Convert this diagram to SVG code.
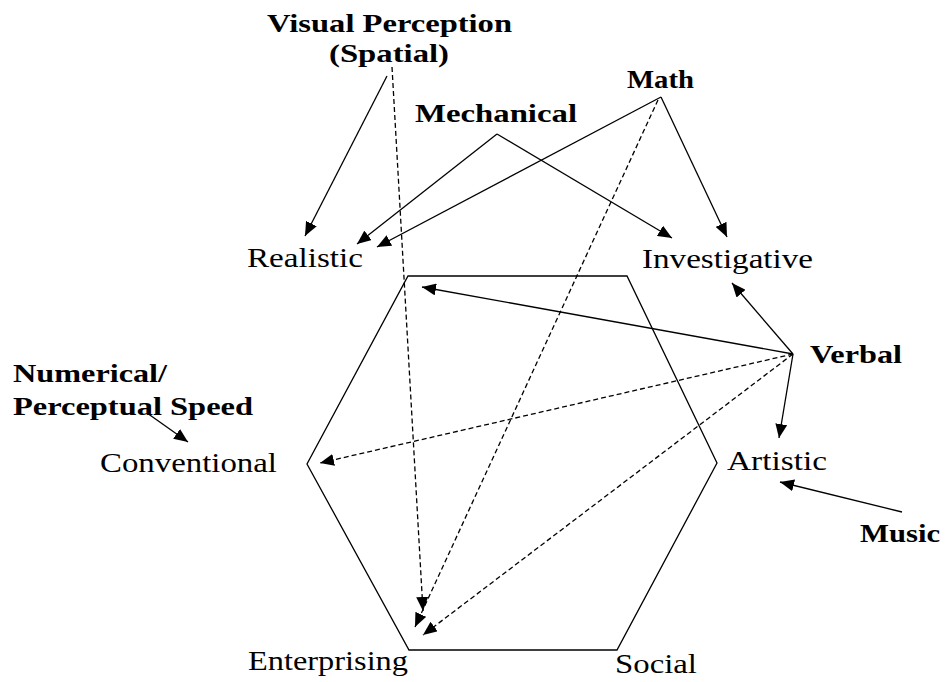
<svg xmlns="http://www.w3.org/2000/svg" width="947" height="682" viewBox="0 0 947 682">
<style>
.t{font-family:"Liberation Serif","Times New Roman",serif;fill:#000}
.b{font-weight:bold;font-size:26px}
.r{font-size:27px}
.e{stroke:#000;stroke-width:1.3;fill:none;marker-end:url(#ah)}
.d{stroke-dasharray:5,3}
.hex{stroke:#000;stroke-width:1.3;fill:none}
</style>
<defs>
<marker id="ah" markerUnits="userSpaceOnUse" markerWidth="14" markerHeight="12" refX="14" refY="6" orient="auto">
<path d="M0,0 L14,6 L0,12 z" fill="#000"/>
</marker>
</defs>
<rect width="947" height="682" fill="#fff"/>
<g id="hexagon"><polygon class="hex" points="408,276 627,276 717,463 617,650 409,650 307,464"/></g>
<g id="connectors">
<line class="e" x1="387" y1="76" x2="305" y2="236"/>
<line class="e d" x1="392" y1="67" x2="423" y2="611"/>
<line class="e" x1="497" y1="134" x2="357" y2="244"/>
<line class="e" x1="497" y1="134" x2="672" y2="238"/>
<line class="e" x1="661" y1="97" x2="377" y2="247"/>
<line class="e" x1="661" y1="97" x2="727" y2="237"/>
<line class="e d" x1="658" y1="100" x2="415" y2="627"/>
<line class="e" x1="793" y1="354" x2="732" y2="283"/>
<line class="e" x1="793" y1="354" x2="422" y2="287"/>
<line class="e d" x1="793" y1="354" x2="320" y2="463"/>
<line class="e d" x1="793" y1="354" x2="423" y2="635"/>
<line class="e" x1="793" y1="354" x2="779" y2="438"/>
<line class="e" x1="902" y1="512" x2="780" y2="482"/>
<line class="e" x1="147" y1="413" x2="188" y2="442"/>
</g>
<g id="visual"><text class="t b" x="267" y="32" textLength="245" lengthAdjust="spacingAndGlyphs">Visual Perception</text><text class="t b" x="329" y="62" textLength="120" lengthAdjust="spacingAndGlyphs">(Spatial)</text></g>
<g id="mechanical"><text class="t b" x="415" y="122" textLength="162" lengthAdjust="spacingAndGlyphs">Mechanical</text></g>
<g id="math"><text class="t b" x="627" y="88" textLength="67" lengthAdjust="spacingAndGlyphs">Math</text></g>
<g id="verbal"><text class="t b" x="810" y="363" textLength="92" lengthAdjust="spacingAndGlyphs">Verbal</text></g>
<g id="music"><text class="t b" x="860" y="542" textLength="80" lengthAdjust="spacingAndGlyphs">Music</text></g>
<g id="numerical"><text class="t b" x="13" y="382" textLength="154" lengthAdjust="spacingAndGlyphs">Numerical/</text><text class="t b" x="13" y="415" textLength="240" lengthAdjust="spacingAndGlyphs">Perceptual Speed</text></g>
<g id="realistic"><text class="t r" x="247" y="267" textLength="116" lengthAdjust="spacingAndGlyphs">Realistic</text></g>
<g id="investigative"><text class="t r" x="642" y="268" textLength="171" lengthAdjust="spacingAndGlyphs">Investigative</text></g>
<g id="artistic"><text class="t r" x="727" y="470" textLength="100" lengthAdjust="spacingAndGlyphs">Artistic</text></g>
<g id="conventional"><text class="t r" x="100" y="472" textLength="177" lengthAdjust="spacingAndGlyphs">Conventional</text></g>
<g id="enterprising"><text class="t r" x="248" y="670" textLength="160" lengthAdjust="spacingAndGlyphs">Enterprising</text></g>
<g id="social"><text class="t r" x="615" y="673" textLength="82" lengthAdjust="spacingAndGlyphs">Social</text></g>
</svg>
